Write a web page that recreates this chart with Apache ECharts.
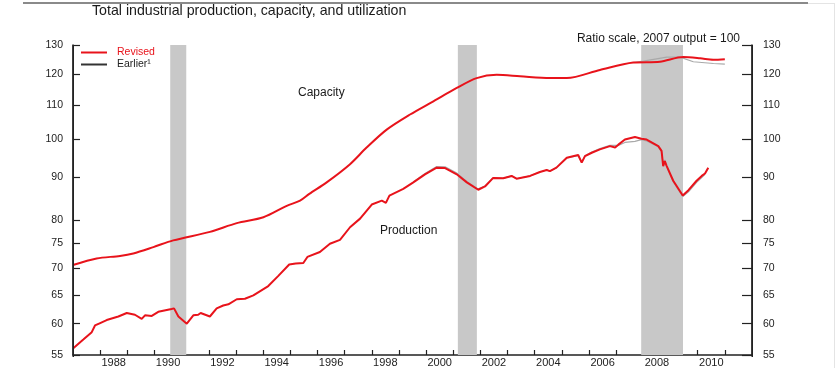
<!DOCTYPE html>
<html><head><meta charset="utf-8">
<script src="https://cdn.jsdelivr.net/npm/echarts@6/dist/echarts.min.js"></script>
<style>html,body{margin:0;padding:0;background:#fff}#c{width:838px;height:368px}</style>
</head><body><div id="c"></div>
<script>
const chartTitle = 'Total industrial production, capacity, and utilization';
const scaleNote = 'Ratio scale, 2007 output = 100';
const yTicks = [55, 60, 65, 70, 75, 80, 90, 100, 110, 120, 130];
const xTickYears = [1988,1989,1990,1991,1992,1993,1994,1995,1996,1997,1998,1999,2000,2001,2002,2003,2004,2005,2006,2007,2008,2009,2010,2011];
const xLabelYears = [1988,1990,1992,1994,1996,1998,2000,2002,2004,2006,2008,2010];
const recessions = [[1990.58, 1991.17], [2001.17, 2001.87], [2007.92, 2009.46]];

const capacityYears = [1987.0,1987.87,1988.73,1989.22,1989.96,1990.69,1992.04,1993.03,1994.01,1994.87,1995.36,1995.7,1996.34,1997.2,1997.81,1998.55,1999.41,2000.27,2001.13,2001.86,2002.6,2003.46,2004.56,2005.18,2006.4,2007.63,2008.61,2009.47,2010.09,2010.58,2011.0];
const capacityRevised = [70.6,71.9,72.4,72.9,74.2,75.6,77.4,79.3,80.6,83.2,84.4,86.0,88.8,93.4,97.8,102.8,107.2,111.2,115.4,118.6,119.7,119.2,118.6,118.6,121.3,123.8,124.1,125.7,125.3,124.8,125.0];

const capacityEarlierYears = [2007.63,2008.0,2008.86,2009.35,2009.84,2010.58,2011.0];
const capacityEarlier = [123.8,124.3,125.7,125.7,124.1,123.5,123.3];

const productionYears = [1987.0,1987.38,1987.69,1987.81,1988.0,1988.24,1988.67,1988.98,1989.28,1989.53,1989.65,1989.9,1990.14,1990.63,1990.72,1990.88,1991.19,1991.43,1991.61,1991.7,1992.04,1992.29,1992.53,1992.72,1993.03,1993.33,1993.64,1994.19,1994.56,1994.96,1995.2,1995.48,1995.63,1996.09,1996.46,1996.83,1997.2,1997.57,1998.0,1998.37,1998.52,1998.65,1999.16,1999.53,1999.96,2000.39,2000.7,2001.13,2001.5,2001.92,2002.17,2002.47,2002.84,2003.15,2003.33,2003.83,2004.19,2004.44,2004.56,2004.8,2005.18,2005.6,2005.67,2005.73,2005.85,2006.1,2006.4,2006.77,2006.96,2007.08,2007.32,2007.69,2007.93,2008.12,2008.55,2008.67,2008.73,2008.79,2008.86,2009.1,2009.45,2009.66,2009.96,2010.15,2010.27,2010.39];
const productionRevised = [56.0,57.4,58.6,59.7,60.1,60.6,61.2,61.8,61.5,60.8,61.4,61.3,62.0,62.5,62.6,61.2,60.0,61.4,61.5,61.8,61.2,62.6,63.1,63.3,64.2,64.3,64.9,66.6,68.5,70.7,70.9,71.0,72.2,73.2,74.9,75.7,78.4,80.3,83.5,84.4,83.9,85.6,87.2,88.8,90.8,92.5,92.4,90.8,88.8,87.0,87.8,89.9,89.8,90.4,89.7,90.4,91.4,91.9,91.6,92.5,95.1,95.8,95.5,93.8,95.5,96.4,97.3,98.2,97.8,98.6,100.0,100.7,100.2,100.0,98.2,96.9,92.9,94.2,92.9,89.2,85.6,86.9,89.2,90.4,91.0,92.5];

const productionEarlierYears = [1999.53,1999.96,2000.39,2000.7,2001.13,2001.5,2001.92,2002.17,2002.47,2002.84,2003.15,2003.33,2003.83,2004.19,2004.44,2004.56,2004.8,2005.18,2005.6,2005.73,2005.85,2006.1,2006.4,2006.77,2007.08,2007.32,2007.69,2007.93,2008.12,2008.55,2008.67,2008.73,2008.79,2008.86,2009.1,2009.45,2009.66,2009.96,2010.15,2010.27];
const productionEarlier = [88.9,91.0,92.8,92.7,91.1,89.0,87.2,87.9,89.9,89.8,90.4,89.7,90.4,91.4,91.9,91.6,92.5,95.0,95.6,93.9,95.6,96.6,97.5,98.4,98.4,99.2,99.5,100.0,99.6,98.0,96.7,93.2,94.5,92.8,88.9,85.4,86.5,88.8,90.0,90.8];

const zip = (xs, ys) => xs.map((x, i) => [x, ys[i]]);
const RED = '#e8131b';
const GRAY = '#a9a9a9';
const AXIS = '#222';
const FONT = 'Liberation Sans, Arial, sans-serif';

const chart = echarts.init(document.getElementById('c'), null, {renderer: 'canvas'});

function makeYAxis(pos, tickLen, margin) {
  return {
    type: 'log', min: 55, max: 130, logBase: 10, position: pos,
    axisLine: {show: true, onZero: false, lineStyle: {color: AXIS, width: 1.5}},
    axisTick: {show: true, inside: true, length: tickLen, customValues: yTicks, lineStyle: {color: AXIS, width: 1.2}},
    axisLabel: {show: true, customValues: yTicks, margin: margin, fontSize: 10.5, color: '#222', fontFamily: FONT},
    splitLine: {show: false}
  };
}

chart.setOption({
  animation: false,
  backgroundColor: '#fff',
  grid: {left: 73, right: 86, top: 45, bottom: 11, containLabel: false},
  legend: {
    orient: 'vertical', left: 81, top: 47, padding: 0, itemWidth: 26, itemHeight: 2, itemGap: 1,
    icon: 'rect', selectedMode: false,
    textStyle: {fontSize: 10.5, fontFamily: FONT, padding: [0, 0, 0, 5]},
    data: [
      {name: 'Revised', textStyle: {color: RED}, itemStyle: {color: RED}},
      {name: 'Earlier¹', textStyle: {color: '#222'}, itemStyle: {color: '#333'}}
    ]
  },
  xAxis: {
    type: 'value', min: 1987, max: 2012, interval: 1,
    axisLine: {show: true, onZero: false, lineStyle: {color: AXIS, width: 1.5}},
    axisTick: {show: true, inside: true, length: 5, customValues: xTickYears, lineStyle: {color: AXIS, width: 1.2}},
    axisLabel: {customValues: xLabelYears.map(y => y + 0.5), formatter: v => String(Math.floor(v)), margin: 2, fontSize: 11, color: '#222', fontFamily: FONT},
    splitLine: {show: false}
  },
  yAxis: [makeYAxis('left', 7, 10), makeYAxis('right', 10, 11)],
  series: [
    {
      name: 'Earlier¹', type: 'line', yAxisIndex: 0, showSymbol: false, symbol: 'none', z: 2,
      data: zip(capacityEarlierYears, capacityEarlier),
      lineStyle: {color: GRAY, width: 1.2}, itemStyle: {color: GRAY},
      markArea: {
        silent: true, z: 1,
        itemStyle: {color: '#c8c8c8', opacity: 1},
        data: recessions.map(r => [{xAxis: r[0]}, {xAxis: r[1]}])
      }
    },
    {
      name: 'Earlier¹', type: 'line', yAxisIndex: 0, showSymbol: false, symbol: 'none', z: 2,
      data: zip(productionEarlierYears, productionEarlier),
      lineStyle: {color: GRAY, width: 1.2}, itemStyle: {color: GRAY}
    },
    {
      name: 'Revised', type: 'line', yAxisIndex: 0, showSymbol: false, symbol: 'none', z: 3,
      data: zip(capacityYears, capacityRevised), smooth: 0.3,
      lineStyle: {color: RED, width: 2}, itemStyle: {color: RED}
    },
    {
      name: 'Revised', type: 'line', yAxisIndex: 0, showSymbol: false, symbol: 'none', z: 3,
      data: zip(productionYears, productionRevised),
      lineStyle: {color: RED, width: 2}, itemStyle: {color: RED}
    }
  ],
  graphic: [
    {type: 'rect', shape: {x: 23, y: 2, width: 785, height: 2}, style: {fill: '#8a8a8a'}, silent: true},
    {type: 'rect', shape: {x: 808, y: 3, width: 26, height: 1}, style: {fill: '#e4e4e4'}, silent: true},
    {type: 'rect', shape: {x: 834, y: 3, width: 1, height: 365}, style: {fill: '#e4e4e4'}, silent: true},
    {type: 'rect', shape: {x: 72.5, y: 45, width: 1.5, height: 312}, style: {fill: AXIS}, z: 100, silent: true},
    {type: 'rect', shape: {x: 751.5, y: 45, width: 1.5, height: 312}, style: {fill: AXIS}, z: 100, silent: true},
    {type: 'text', x: 92, y: 11, style: {text: chartTitle, fontSize: 14.2, fontFamily: FONT, fill: '#1a1a1a', textVerticalAlign: 'middle'}},
    {type: 'text', x: 740, y: 38.5, style: {text: scaleNote, fontSize: 12, fontFamily: FONT, fill: '#1a1a1a', textAlign: 'right', textVerticalAlign: 'middle'}},
    {type: 'text', x: 298, y: 93, style: {text: 'Capacity', fontSize: 12, fontFamily: FONT, fill: '#1a1a1a', textVerticalAlign: 'middle'}},
    {type: 'text', x: 380, y: 231, style: {text: 'Production', fontSize: 12, fontFamily: FONT, fill: '#1a1a1a', textVerticalAlign: 'middle'}}
  ]
});
</script></body></html>
